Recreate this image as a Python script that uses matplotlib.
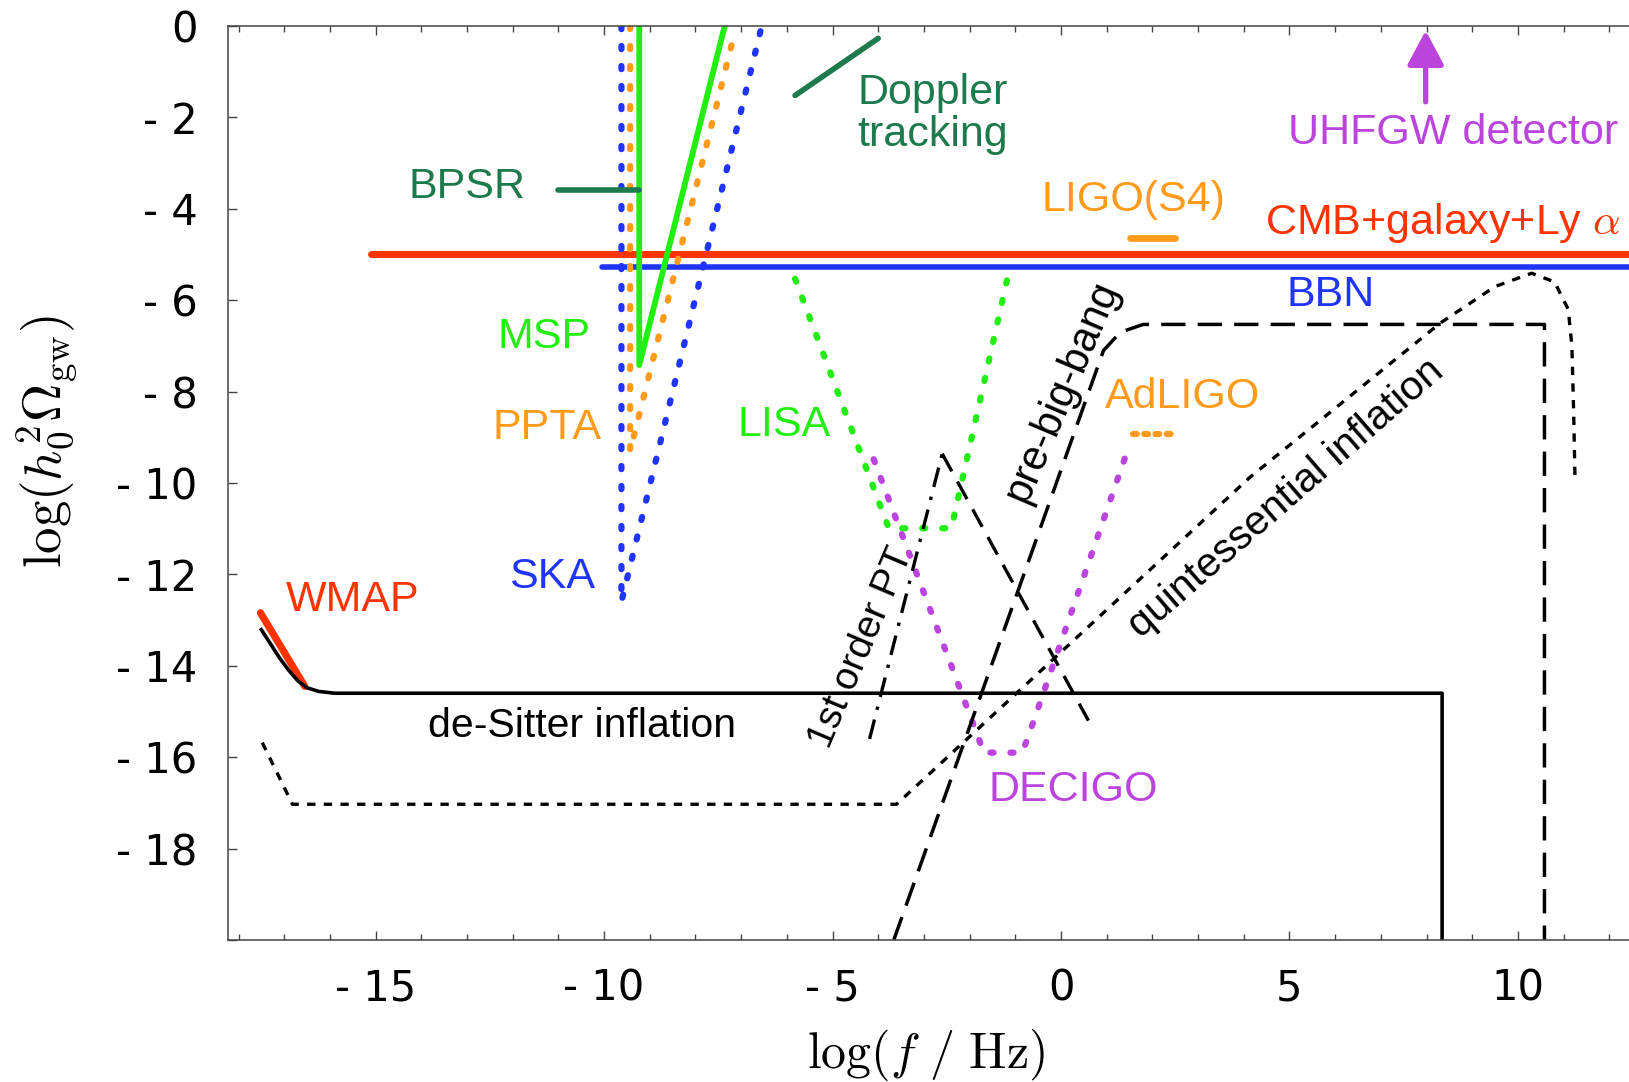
import matplotlib.pyplot as plt
from matplotlib.ticker import MultipleLocator

plt.rcParams['font.family'] = 'Liberation Sans'
plt.rcParams['mathtext.fontset'] = 'cm'

# colours
red = '#ff3300'
blue = '#1f35ff'
orange = '#ff9a1a'
green = '#22ee11'
dgreen = '#1c7a4c'
purple = '#bb44dd'

# ---- data: log(f/Hz) vs log(h0^2 Omega_gw) ----
cmb_x = [-15.1, 12.5]
cmb_y = [-4.98, -4.98]
bbn_x = [-10.04, 12.5]
bbn_y = [-5.27, -5.27]

ska_x = [-9.62, -9.62, -6.55]
ska_y = [0.0, -12.6, 0.0]
ppta_x = [-9.43, -9.43, -7.18]
ppta_y = [0.0, -9.3, -0.3]
msp_x = [-9.23, -9.23, -7.36]
msp_y = [0.0, -7.42, 0.0]
bpsr_x = [-11.0, -9.23]
bpsr_y = [-3.58, -3.58]
doppler_x = [-5.82, -4.0]
doppler_y = [-1.52, -0.27]

lisa_x = [-5.82, -3.77, -2.4, -1.16]
lisa_y = [-5.53, -10.99, -10.99, -5.46]
decigo_x = [-4.1, -1.84, -1.69, -0.85, -0.7, 1.41]
decigo_y = [-9.48, -15.49, -15.9, -15.9, -15.5, -9.42]
ligo_s4_x = [1.51, 2.49]
ligo_s4_y = [-4.64, -4.64]
adligo_x = [1.57, 2.43]
adligo_y = [-8.92, -8.92]

wmap_x = [-17.52, -16.55]
wmap_y = [-12.84, -14.45]

desitter_x = [-17.5, -17.3, -17.1, -16.9, -16.7, -16.5, -16.25, -15.9, 8.34, 8.34]
desitter_y = [-13.21, -13.52, -13.83, -14.1, -14.33, -14.48, -14.56, -14.6, -14.6, -20.0]

quint_x = [-17.48, -16.82, -3.6, 4.14, 8.3, 9.5, 10.3, 10.8, 11.1, 11.18, 11.22, 11.25]
quint_y = [-15.68, -17.03, -17.03, -9.87, -6.5, -5.7, -5.41, -5.6, -6.2, -7.0, -8.5, -10.0]

pbb_x = [-3.66, 0.93, 1.3, 1.8, 10.58, 10.58]
pbb_y = [-20.0, -7.1, -6.7, -6.53, -6.53, -20.0]

pt_left_x = [-4.19, -2.6]
pt_left_y = [-15.6, -9.36]
pt_right_x = [-2.6, 0.6]
pt_right_y = [-9.36, -15.2]

uhf_x = 7.98
uhf_y = [-1.66, -0.1]

xticks = [-15, -10, -5, 0, 5, 10]
xtick_labels = ['- 15', '- 10', '- 5', '0', '5', '10']
yticks = [0, -2, -4, -6, -8, -10, -12, -14, -16, -18, -20]
ytick_labels = ['0', '- 2', '- 4', '- 6', '- 8', '- 10', '- 12', '- 14', '- 16', '- 18', '']

fig = plt.figure(figsize=(16.29, 10.82), dpi=100)
ax = fig.add_axes([228 / 1629, 1 - 940 / 1082, 1 - 228 / 1629, (940 - 26) / 1082])

dots = (0, (0.5, 2.7))
rd = dict(dash_capstyle='round', solid_capstyle='round')

ax.plot(cmb_x, cmb_y, color=red, lw=5, **rd)
ax.plot(bbn_x, bbn_y, color=blue, lw=4, **rd)
ax.plot(ska_x, ska_y, color=blue, lw=4.5, ls=dots, **rd)
ax.plot(ppta_x, ppta_y, color=orange, lw=4.5, ls=dots, **rd)
ax.plot(msp_x, msp_y, color=green, lw=4.2, **rd)
ax.plot(bpsr_x, bpsr_y, color=dgreen, lw=4, **rd)
ax.plot(doppler_x, doppler_y, color=dgreen, lw=4, **rd)
ax.plot(lisa_x, lisa_y, color=green, lw=4.5, ls=dots, **rd)
ax.plot(decigo_x, decigo_y, color=purple, lw=4.5, ls=dots, **rd)
ax.plot(ligo_s4_x, ligo_s4_y, color=orange, lw=4.8, **rd)
ax.plot(adligo_x, adligo_y, color=orange, lw=4.5, ls=(0, (0.6, 1.2)), **rd)
ax.plot(wmap_x, wmap_y, color=red, lw=5.2, **rd)

ax.plot(desitter_x, desitter_y, color='black', lw=2.6)
ax.plot(quint_x, quint_y, color='black', lw=2.4, ls=(0, (2.5, 2.5)))
ax.plot(pbb_x, pbb_y, color='black', lw=2.5, ls=(0, (7, 3.5)))
ax.plot(pt_left_x, pt_left_y, color='black', lw=2.4, ls=(0, (6, 3, 1, 3)))
ax.plot(pt_right_x, pt_right_y, color='black', lw=2.4, ls=(0, (6, 3.5)))

ax.annotate('', xy=(uhf_x, uhf_y[1]), xytext=(uhf_x, uhf_y[0]),
            arrowprops=dict(arrowstyle='-|>,head_length=0.6,head_width=0.32',
                            color=purple, lw=3.8, mutation_scale=35, shrinkA=0, shrinkB=0))

fs = 31
ax.text(-13.0, -3.53, 'BPSR', color=dgreen, fontsize=fs, ha='center', va='center')
ax.text(-4.45, -1.92, 'Doppler\ntracking', color=dgreen, fontsize=fs, ha='left', va='center',
        linespacing=1.08)
ax.text(-11.32, -6.8, 'MSP', color=green, fontsize=fs, ha='center', va='center')
ax.text(-11.25, -8.8, 'PPTA', color=orange, fontsize=fs, ha='center', va='center')
ax.text(-11.14, -12.05, 'SKA', color=blue, fontsize=fs, ha='center', va='center')
ax.text(-15.5, -12.56, 'WMAP', color=red, fontsize=fs, ha='center', va='center')
ax.text(-10.48, -15.32, 'de-Sitter inflation', color='black', fontsize=29.5, ha='center',
        va='center')
ax.text(-6.05, -8.72, 'LISA', color=green, fontsize=fs, ha='center', va='center')
ax.text(-4.37, -13.6, '1st order PT', color='black', fontsize=28, ha='center', va='center',
        rotation=67, rotation_mode='anchor')
ax.text(0.02, -8.01, 'pre-big-bang', color='black', fontsize=30, ha='center', va='center',
        rotation=67, rotation_mode='anchor')
ax.text(0.27, -16.72, 'DECIGO', color=purple, fontsize=fs, ha='center', va='center')
ax.text(2.66, -8.12, 'AdLIGO', color=orange, fontsize=fs, ha='center', va='center')
ax.text(1.59, -3.8, 'LIGO(S4)', color=orange, fontsize=fs, ha='center', va='center')
ax.text(12.25, -4.3, r'CMB+galaxy+Ly $\alpha$', color=red, fontsize=fs, ha='right', va='center')
ax.text(5.91, -5.89, 'BBN', color=blue, fontsize=fs, ha='center', va='center')
ax.text(4.93, -10.33, 'quintessential inflation', color='black', fontsize=29.5, ha='center',
        va='center', rotation=41, rotation_mode='anchor')
ax.text(8.59, -2.34, 'UHFGW detector', color=purple, fontsize=fs, ha='center', va='center')

ax.set_xlim(-18.23, 12.43)
ax.set_ylim(-20, 0)
ax.set_xticks(xticks)
ax.set_xticklabels(xtick_labels, fontfamily='DejaVu Sans', fontsize=30)
ax.xaxis.set_minor_locator(MultipleLocator(1))
ax.set_yticks(yticks)
ax.set_yticklabels(ytick_labels, fontfamily='DejaVu Sans', fontsize=30)
ax.tick_params(axis='both', which='both', direction='in', top=True, right=False, color='#444444')
ax.tick_params(axis='x', which='major', length=6.5, width=1, pad=20)
ax.tick_params(axis='x', which='minor', length=4.3, width=1)
ax.tick_params(axis='y', which='major', length=6.5, width=1, pad=22)
ax.spines['right'].set_visible(False)
for s in ['left', 'top', 'bottom']:
    ax.spines[s].set_color('#444444')
    ax.spines[s].set_linewidth(1.1)

ax.set_xlabel(r'$\log(f\ /\ \mathrm{Hz})$', fontsize=36)
ax.set_ylabel(r'$\log(h_0^2\Omega_{\rm gw})$', fontsize=38)
ax.xaxis.set_label_coords(0.498, -0.095)
ax.yaxis.set_label_coords(-0.106, 0.545)

fig.savefig('out.png', dpi=100)
